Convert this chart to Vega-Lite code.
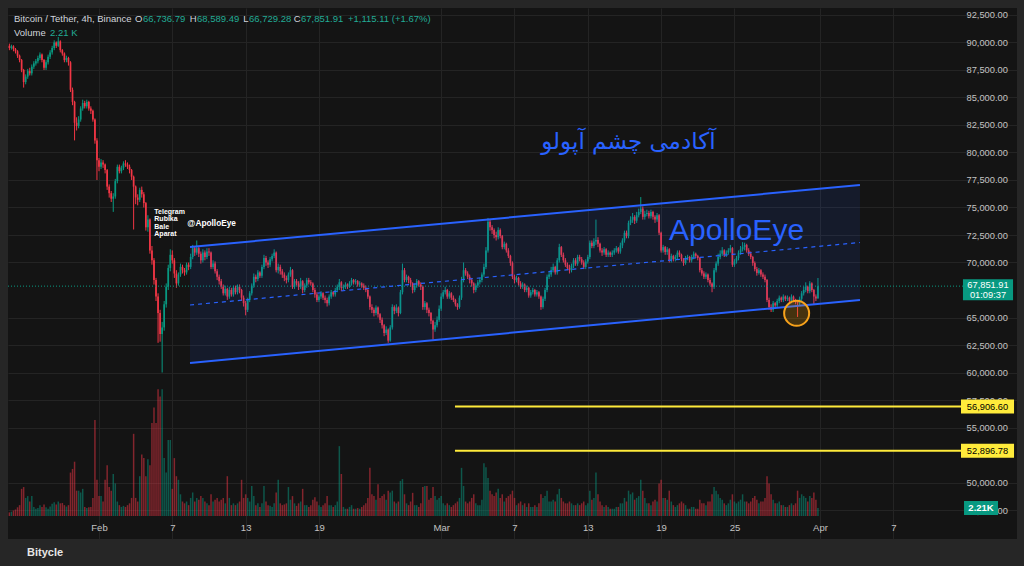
{
"$schema":"https://vega.github.io/schema/vega-lite/v6.json",
"width":1009,"height":531,
"autosize":{"type":"none"},
"padding":{"left":8,"top":8,"right":7,"bottom":27},
"background":"#262626",
"config":{"view":{"fill":"#141414","stroke":null},"font":"Liberation Sans","axis":{"labelOverlap":false,"labelBound":false}},
"title":{"text":"Bitycle","orient":"bottom","anchor":"start","frame":"group","dx":19,"offset":8,"color":"#e6e6e6","fontSize":11,"fontWeight":"bold","font":"Liberation Sans"},
"datasets":{"k":[
{"t":"2026-01-24T16:00","o":89700,"h":89900,"l":89300,"c":89500,"v":1.0},
{"t":"2026-01-24T20:00","o":89500,"h":89800,"l":89350,"c":89650,"v":1.2},
{"t":"2026-01-25T00:00","o":89650,"h":89750,"l":89200,"c":89400,"v":1.5},
{"t":"2026-01-25T04:00","o":89400,"h":89500,"l":89000,"c":89200,"v":1.8},
{"t":"2026-01-25T08:00","o":89200,"h":89300,"l":88600,"c":88800,"v":2.4},
{"t":"2026-01-25T12:00","o":88800,"h":88900,"l":88200,"c":88400,"v":3.0},
{"t":"2026-01-25T16:00","o":88400,"h":88500,"l":87300,"c":87500,"v":7.5},
{"t":"2026-01-25T20:00","o":87500,"h":87600,"l":85900,"c":86400,"v":8.0},
{"t":"2026-01-26T00:00","o":86400,"h":87100,"l":86200,"c":86900,"v":5.0},
{"t":"2026-01-26T04:00","o":86900,"h":87600,"l":86700,"c":87400,"v":5.5},
{"t":"2026-01-26T08:00","o":87400,"h":87700,"l":87000,"c":87200,"v":4.0},
{"t":"2026-01-26T12:00","o":87200,"h":88000,"l":87000,"c":87800,"v":5.5},
{"t":"2026-01-26T16:00","o":87800,"h":88300,"l":87600,"c":88100,"v":2.5},
{"t":"2026-01-26T20:00","o":88100,"h":88500,"l":87900,"c":88300,"v":2.0},
{"t":"2026-01-27T00:00","o":88300,"h":88800,"l":88100,"c":88600,"v":2.2},
{"t":"2026-01-27T04:00","o":88600,"h":89100,"l":88400,"c":88900,"v":3.0},
{"t":"2026-01-27T08:00","o":88900,"h":89000,"l":88200,"c":88400,"v":2.5},
{"t":"2026-01-27T12:00","o":88400,"h":88500,"l":87500,"c":87700,"v":3.2},
{"t":"2026-01-27T16:00","o":87700,"h":88400,"l":87500,"c":88200,"v":2.4},
{"t":"2026-01-27T20:00","o":88200,"h":88900,"l":88000,"c":88700,"v":2.0},
{"t":"2026-01-28T00:00","o":88700,"h":89300,"l":88500,"c":89100,"v":2.6},
{"t":"2026-01-28T04:00","o":89100,"h":89700,"l":88900,"c":89500,"v":3.4},
{"t":"2026-01-28T08:00","o":89500,"h":90200,"l":89300,"c":90000,"v":3.8},
{"t":"2026-01-28T12:00","o":90000,"h":90100,"l":89500,"c":89700,"v":3.2},
{"t":"2026-01-28T16:00","o":89700,"h":90500,"l":89600,"c":90100,"v":4.0},
{"t":"2026-01-28T20:00","o":90100,"h":90200,"l":89100,"c":89300,"v":3.5},
{"t":"2026-01-29T00:00","o":89300,"h":89400,"l":88800,"c":89000,"v":3.6},
{"t":"2026-01-29T04:00","o":89000,"h":89100,"l":88200,"c":88400,"v":3.0},
{"t":"2026-01-29T08:00","o":88400,"h":88800,"l":88200,"c":88600,"v":2.6},
{"t":"2026-01-29T12:00","o":88600,"h":88700,"l":87900,"c":88200,"v":3.0},
{"t":"2026-01-29T16:00","o":88200,"h":88300,"l":85500,"c":85700,"v":12.0},
{"t":"2026-01-29T20:00","o":85700,"h":85900,"l":84300,"c":84600,"v":13.0},
{"t":"2026-01-30T00:00","o":84600,"h":84700,"l":81100,"c":82700,"v":15.0},
{"t":"2026-01-30T04:00","o":82700,"h":83200,"l":82000,"c":82400,"v":7.0},
{"t":"2026-01-30T08:00","o":82400,"h":83300,"l":82200,"c":83000,"v":7.0},
{"t":"2026-01-30T12:00","o":83000,"h":84200,"l":82800,"c":84000,"v":6.5},
{"t":"2026-01-30T16:00","o":84000,"h":84800,"l":83800,"c":84500,"v":7.5},
{"t":"2026-01-30T20:00","o":84500,"h":84700,"l":84000,"c":84200,"v":2.5},
{"t":"2026-01-31T00:00","o":84200,"h":84800,"l":84000,"c":84600,"v":2.2},
{"t":"2026-01-31T04:00","o":84600,"h":84700,"l":83800,"c":84000,"v":2.4},
{"t":"2026-01-31T08:00","o":84000,"h":84200,"l":83500,"c":83800,"v":2.5},
{"t":"2026-01-31T12:00","o":83800,"h":83900,"l":82800,"c":83000,"v":5.0},
{"t":"2026-01-31T16:00","o":83000,"h":83100,"l":80800,"c":81100,"v":26.5},
{"t":"2026-01-31T20:00","o":81100,"h":81300,"l":77500,"c":79300,"v":10.0},
{"t":"2026-02-01T00:00","o":79300,"h":79500,"l":78300,"c":78700,"v":5.5},
{"t":"2026-02-01T04:00","o":78700,"h":79400,"l":78500,"c":79100,"v":5.5},
{"t":"2026-02-01T08:00","o":79100,"h":79300,"l":78600,"c":78900,"v":4.0},
{"t":"2026-02-01T12:00","o":78900,"h":79000,"l":78100,"c":78400,"v":10.0},
{"t":"2026-02-01T16:00","o":78400,"h":78500,"l":76600,"c":76900,"v":14.0},
{"t":"2026-02-01T20:00","o":76900,"h":77100,"l":75900,"c":76300,"v":8.0},
{"t":"2026-02-02T00:00","o":76300,"h":76500,"l":75500,"c":75800,"v":7.0},
{"t":"2026-02-02T04:00","o":75800,"h":76300,"l":74600,"c":76000,"v":11.6},
{"t":"2026-02-02T08:00","o":76000,"h":77600,"l":75800,"c":77400,"v":9.0},
{"t":"2026-02-02T12:00","o":77400,"h":78900,"l":77200,"c":78700,"v":4.0},
{"t":"2026-02-02T16:00","o":78700,"h":78900,"l":78100,"c":78300,"v":3.0},
{"t":"2026-02-02T20:00","o":78300,"h":78800,"l":78100,"c":78600,"v":2.5},
{"t":"2026-02-03T00:00","o":78600,"h":79200,"l":78400,"c":79000,"v":2.8},
{"t":"2026-02-03T04:00","o":79000,"h":79300,"l":78700,"c":78900,"v":2.5},
{"t":"2026-02-03T08:00","o":78900,"h":79100,"l":78500,"c":78700,"v":3.0},
{"t":"2026-02-03T12:00","o":78700,"h":78900,"l":78100,"c":78400,"v":3.5},
{"t":"2026-02-03T16:00","o":78400,"h":78500,"l":77500,"c":77800,"v":5.0},
{"t":"2026-02-03T20:00","o":77800,"h":77900,"l":73000,"c":76900,"v":22.7},
{"t":"2026-02-04T00:00","o":76900,"h":77000,"l":75300,"c":75900,"v":5.0},
{"t":"2026-02-04T04:00","o":75900,"h":76200,"l":75200,"c":75700,"v":4.0},
{"t":"2026-02-04T08:00","o":75700,"h":76800,"l":75500,"c":76600,"v":11.0},
{"t":"2026-02-04T12:00","o":76600,"h":76900,"l":75900,"c":76200,"v":17.0},
{"t":"2026-02-04T16:00","o":76200,"h":76400,"l":75000,"c":75400,"v":16.0},
{"t":"2026-02-04T20:00","o":75400,"h":75500,"l":72900,"c":73200,"v":11.0},
{"t":"2026-02-05T00:00","o":73200,"h":74300,"l":72800,"c":73900,"v":15.7},
{"t":"2026-02-05T04:00","o":73900,"h":74000,"l":70800,"c":71100,"v":14.0},
{"t":"2026-02-05T08:00","o":71100,"h":71500,"l":69800,"c":70200,"v":25.7},
{"t":"2026-02-05T12:00","o":70200,"h":70400,"l":68000,"c":68400,"v":30.0},
{"t":"2026-02-05T16:00","o":68400,"h":68600,"l":66500,"c":66900,"v":25.7},
{"t":"2026-02-05T20:00","o":66900,"h":67200,"l":62700,"c":65400,"v":35.0},
{"t":"2026-02-06T00:00","o":65400,"h":65700,"l":62800,"c":63500,"v":33.0},
{"t":"2026-02-06T04:00","o":63500,"h":64600,"l":60000,"c":64100,"v":35.0},
{"t":"2026-02-06T08:00","o":64100,"h":66500,"l":63800,"c":66200,"v":16.0},
{"t":"2026-02-06T12:00","o":66200,"h":68100,"l":65900,"c":67800,"v":12.0},
{"t":"2026-02-06T16:00","o":67800,"h":69800,"l":67500,"c":69500,"v":21.0},
{"t":"2026-02-06T20:00","o":69500,"h":71200,"l":69200,"c":70700,"v":21.0},
{"t":"2026-02-07T00:00","o":70700,"h":71100,"l":69900,"c":70200,"v":7.5},
{"t":"2026-02-07T04:00","o":70200,"h":70400,"l":68600,"c":69000,"v":16.0},
{"t":"2026-02-07T08:00","o":69000,"h":69300,"l":67700,"c":68100,"v":11.0},
{"t":"2026-02-07T12:00","o":68100,"h":69100,"l":67900,"c":68900,"v":10.0},
{"t":"2026-02-07T16:00","o":68900,"h":69900,"l":68700,"c":69600,"v":6.0},
{"t":"2026-02-07T20:00","o":69600,"h":69800,"l":69000,"c":69300,"v":4.0},
{"t":"2026-02-08T00:00","o":69300,"h":69500,"l":68800,"c":69100,"v":3.5},
{"t":"2026-02-08T04:00","o":69100,"h":70000,"l":68900,"c":69800,"v":4.0},
{"t":"2026-02-08T08:00","o":69800,"h":70000,"l":69300,"c":69600,"v":3.0},
{"t":"2026-02-08T12:00","o":69600,"h":70800,"l":69400,"c":70500,"v":5.0},
{"t":"2026-02-08T16:00","o":70500,"h":71600,"l":70300,"c":71300,"v":6.5},
{"t":"2026-02-08T20:00","o":71300,"h":71500,"l":70600,"c":70900,"v":4.0},
{"t":"2026-02-09T00:00","o":70900,"h":72000,"l":70700,"c":71300,"v":5.0},
{"t":"2026-02-09T04:00","o":71300,"h":71500,"l":70500,"c":70800,"v":4.5},
{"t":"2026-02-09T08:00","o":70800,"h":71000,"l":69900,"c":70200,"v":5.5},
{"t":"2026-02-09T12:00","o":70200,"h":71200,"l":70000,"c":70900,"v":5.0},
{"t":"2026-02-09T16:00","o":70900,"h":71100,"l":70200,"c":70500,"v":4.0},
{"t":"2026-02-09T20:00","o":70500,"h":71300,"l":70300,"c":71000,"v":3.5},
{"t":"2026-02-10T00:00","o":71000,"h":71300,"l":70600,"c":70900,"v":3.0},
{"t":"2026-02-10T04:00","o":70900,"h":71000,"l":69400,"c":69600,"v":6.0},
{"t":"2026-02-10T08:00","o":69600,"h":70200,"l":69400,"c":69900,"v":4.0},
{"t":"2026-02-10T12:00","o":69900,"h":70100,"l":69000,"c":69200,"v":4.5},
{"t":"2026-02-10T16:00","o":69200,"h":69400,"l":68400,"c":68700,"v":5.0},
{"t":"2026-02-10T20:00","o":68700,"h":68900,"l":68000,"c":68300,"v":4.0},
{"t":"2026-02-11T00:00","o":68300,"h":68500,"l":67600,"c":67800,"v":4.5},
{"t":"2026-02-11T04:00","o":67800,"h":68000,"l":67000,"c":67200,"v":5.0},
{"t":"2026-02-11T08:00","o":67200,"h":67900,"l":67000,"c":67600,"v":3.5},
{"t":"2026-02-11T12:00","o":67600,"h":67700,"l":66600,"c":66900,"v":11.0},
{"t":"2026-02-11T16:00","o":66900,"h":67800,"l":66700,"c":67500,"v":5.0},
{"t":"2026-02-11T20:00","o":67500,"h":67700,"l":66900,"c":67100,"v":3.0},
{"t":"2026-02-12T00:00","o":67100,"h":67900,"l":66900,"c":67700,"v":3.5},
{"t":"2026-02-12T04:00","o":67700,"h":67900,"l":67100,"c":67300,"v":3.0},
{"t":"2026-02-12T08:00","o":67300,"h":68000,"l":67100,"c":67800,"v":3.5},
{"t":"2026-02-12T12:00","o":67800,"h":68000,"l":67200,"c":67500,"v":4.0},
{"t":"2026-02-12T16:00","o":67500,"h":67600,"l":66500,"c":66800,"v":10.0},
{"t":"2026-02-12T20:00","o":66800,"h":67000,"l":66000,"c":66300,"v":5.0},
{"t":"2026-02-13T00:00","o":66300,"h":66500,"l":65200,"c":65700,"v":6.0},
{"t":"2026-02-13T04:00","o":65700,"h":66800,"l":65500,"c":66600,"v":5.0},
{"t":"2026-02-13T08:00","o":66600,"h":67400,"l":66400,"c":67200,"v":4.0},
{"t":"2026-02-13T12:00","o":67200,"h":68100,"l":67000,"c":67900,"v":8.3},
{"t":"2026-02-13T16:00","o":67900,"h":69000,"l":67700,"c":68700,"v":5.5},
{"t":"2026-02-13T20:00","o":68700,"h":68900,"l":68200,"c":68500,"v":3.0},
{"t":"2026-02-14T00:00","o":68500,"h":69300,"l":68300,"c":69100,"v":3.5},
{"t":"2026-02-14T04:00","o":69100,"h":69200,"l":68600,"c":68800,"v":2.5},
{"t":"2026-02-14T08:00","o":68800,"h":69800,"l":68600,"c":69600,"v":3.5},
{"t":"2026-02-14T12:00","o":69600,"h":70700,"l":69400,"c":70400,"v":8.3},
{"t":"2026-02-14T16:00","o":70400,"h":70600,"l":69700,"c":70000,"v":4.0},
{"t":"2026-02-14T20:00","o":70000,"h":70200,"l":69500,"c":69800,"v":3.0},
{"t":"2026-02-15T00:00","o":69800,"h":70500,"l":69600,"c":70300,"v":2.8},
{"t":"2026-02-15T04:00","o":70300,"h":70800,"l":70100,"c":70600,"v":2.5},
{"t":"2026-02-15T08:00","o":70600,"h":71200,"l":70400,"c":70900,"v":3.5},
{"t":"2026-02-15T12:00","o":70900,"h":71000,"l":69100,"c":69300,"v":6.5},
{"t":"2026-02-15T16:00","o":69300,"h":69900,"l":69000,"c":69600,"v":10.0},
{"t":"2026-02-15T20:00","o":69600,"h":69800,"l":68900,"c":69200,"v":3.5},
{"t":"2026-02-16T00:00","o":69200,"h":69400,"l":68600,"c":68900,"v":3.0},
{"t":"2026-02-16T04:00","o":68900,"h":69100,"l":68300,"c":68600,"v":3.2},
{"t":"2026-02-16T08:00","o":68600,"h":68800,"l":68100,"c":68400,"v":3.5},
{"t":"2026-02-16T12:00","o":68400,"h":69100,"l":68200,"c":68900,"v":8.0},
{"t":"2026-02-16T16:00","o":68900,"h":69600,"l":68700,"c":69300,"v":4.5},
{"t":"2026-02-16T20:00","o":69300,"h":69400,"l":67600,"c":67800,"v":5.5},
{"t":"2026-02-17T00:00","o":67800,"h":68500,"l":67600,"c":68300,"v":3.5},
{"t":"2026-02-17T04:00","o":68300,"h":68500,"l":67900,"c":68100,"v":2.8},
{"t":"2026-02-17T08:00","o":68100,"h":68300,"l":67500,"c":67800,"v":3.5},
{"t":"2026-02-17T12:00","o":67800,"h":68600,"l":67600,"c":68300,"v":4.0},
{"t":"2026-02-17T16:00","o":68300,"h":68400,"l":67200,"c":67500,"v":7.5},
{"t":"2026-02-17T20:00","o":67500,"h":68100,"l":67300,"c":67900,"v":3.0},
{"t":"2026-02-18T00:00","o":67900,"h":68600,"l":67700,"c":68400,"v":3.0},
{"t":"2026-02-18T04:00","o":68400,"h":68600,"l":68000,"c":68200,"v":2.5},
{"t":"2026-02-18T08:00","o":68200,"h":68400,"l":67900,"c":68100,"v":3.0},
{"t":"2026-02-18T12:00","o":68100,"h":68200,"l":67300,"c":67500,"v":4.5},
{"t":"2026-02-18T16:00","o":67500,"h":67700,"l":66800,"c":67100,"v":5.2},
{"t":"2026-02-18T20:00","o":67100,"h":67300,"l":66400,"c":66600,"v":4.0},
{"t":"2026-02-19T00:00","o":66600,"h":67100,"l":66400,"c":66900,"v":3.0},
{"t":"2026-02-19T04:00","o":66900,"h":67400,"l":66700,"c":67200,"v":2.5},
{"t":"2026-02-19T08:00","o":67200,"h":67300,"l":66600,"c":66800,"v":3.0},
{"t":"2026-02-19T12:00","o":66800,"h":67000,"l":66300,"c":66600,"v":3.5},
{"t":"2026-02-19T16:00","o":66600,"h":66800,"l":66000,"c":66300,"v":5.5},
{"t":"2026-02-19T20:00","o":66300,"h":67100,"l":66100,"c":66900,"v":3.0},
{"t":"2026-02-20T00:00","o":66900,"h":67500,"l":66700,"c":67300,"v":3.0},
{"t":"2026-02-20T04:00","o":67300,"h":67400,"l":66900,"c":67100,"v":2.5},
{"t":"2026-02-20T08:00","o":67100,"h":67700,"l":66900,"c":67500,"v":3.0},
{"t":"2026-02-20T12:00","o":67500,"h":68000,"l":67300,"c":67800,"v":4.0},
{"t":"2026-02-20T16:00","o":67800,"h":68500,"l":67500,"c":68200,"v":19.3},
{"t":"2026-02-20T20:00","o":68200,"h":68300,"l":67400,"c":67700,"v":11.6},
{"t":"2026-02-21T00:00","o":67700,"h":68000,"l":67500,"c":67800,"v":2.5},
{"t":"2026-02-21T04:00","o":67800,"h":68200,"l":67600,"c":68000,"v":2.0},
{"t":"2026-02-21T08:00","o":68000,"h":68100,"l":67600,"c":67800,"v":2.0},
{"t":"2026-02-21T12:00","o":67800,"h":68300,"l":67700,"c":68100,"v":2.5},
{"t":"2026-02-21T16:00","o":68100,"h":68600,"l":67900,"c":68400,"v":3.0},
{"t":"2026-02-21T20:00","o":68400,"h":68500,"l":68000,"c":68200,"v":2.0},
{"t":"2026-02-22T00:00","o":68200,"h":68500,"l":68000,"c":68300,"v":2.0},
{"t":"2026-02-22T04:00","o":68300,"h":68400,"l":67800,"c":68000,"v":2.2},
{"t":"2026-02-22T08:00","o":68000,"h":68300,"l":67800,"c":68100,"v":2.0},
{"t":"2026-02-22T12:00","o":68100,"h":68200,"l":67700,"c":67900,"v":2.5},
{"t":"2026-02-22T16:00","o":67900,"h":68100,"l":67500,"c":67700,"v":3.0},
{"t":"2026-02-22T20:00","o":67700,"h":67900,"l":67300,"c":67500,"v":3.5},
{"t":"2026-02-23T00:00","o":67500,"h":67600,"l":66700,"c":66900,"v":5.0},
{"t":"2026-02-23T04:00","o":66900,"h":67000,"l":65700,"c":65950,"v":13.3},
{"t":"2026-02-23T08:00","o":65950,"h":66200,"l":65400,"c":65700,"v":6.0},
{"t":"2026-02-23T12:00","o":65700,"h":65900,"l":65100,"c":65400,"v":5.5},
{"t":"2026-02-23T16:00","o":65400,"h":66100,"l":65200,"c":65900,"v":4.5},
{"t":"2026-02-23T20:00","o":65900,"h":66000,"l":65000,"c":65300,"v":8.8},
{"t":"2026-02-24T00:00","o":65300,"h":65400,"l":64500,"c":64800,"v":5.0},
{"t":"2026-02-24T04:00","o":64800,"h":65000,"l":64000,"c":64300,"v":5.5},
{"t":"2026-02-24T08:00","o":64300,"h":64400,"l":63300,"c":63600,"v":6.0},
{"t":"2026-02-24T12:00","o":63600,"h":64200,"l":63400,"c":63900,"v":4.5},
{"t":"2026-02-24T16:00","o":63900,"h":64000,"l":62700,"c":62900,"v":7.0},
{"t":"2026-02-24T20:00","o":62900,"h":64300,"l":62800,"c":64100,"v":6.5},
{"t":"2026-02-25T00:00","o":64100,"h":66200,"l":63900,"c":65950,"v":7.0},
{"t":"2026-02-25T04:00","o":65950,"h":66100,"l":65300,"c":65600,"v":4.0},
{"t":"2026-02-25T08:00","o":65600,"h":66200,"l":65400,"c":65900,"v":3.5},
{"t":"2026-02-25T12:00","o":65900,"h":66000,"l":65100,"c":65400,"v":4.0},
{"t":"2026-02-25T16:00","o":65400,"h":67500,"l":65300,"c":67300,"v":9.7},
{"t":"2026-02-25T20:00","o":67300,"h":69900,"l":67100,"c":69300,"v":10.2},
{"t":"2026-02-26T00:00","o":69300,"h":69500,"l":68200,"c":68400,"v":6.0},
{"t":"2026-02-26T04:00","o":68400,"h":68900,"l":68200,"c":68700,"v":3.5},
{"t":"2026-02-26T08:00","o":68700,"h":68800,"l":68100,"c":68400,"v":3.0},
{"t":"2026-02-26T12:00","o":68400,"h":68600,"l":67800,"c":68100,"v":4.0},
{"t":"2026-02-26T16:00","o":68100,"h":68200,"l":67200,"c":67500,"v":6.4},
{"t":"2026-02-26T20:00","o":67500,"h":68100,"l":67300,"c":67900,"v":3.0},
{"t":"2026-02-27T00:00","o":67900,"h":68500,"l":67700,"c":68300,"v":3.0},
{"t":"2026-02-27T04:00","o":68300,"h":68400,"l":67800,"c":68000,"v":2.5},
{"t":"2026-02-27T08:00","o":68000,"h":68200,"l":67500,"c":67800,"v":3.5},
{"t":"2026-02-27T12:00","o":67800,"h":67900,"l":65700,"c":65950,"v":8.0},
{"t":"2026-02-27T16:00","o":65950,"h":66500,"l":65700,"c":66300,"v":8.3},
{"t":"2026-02-27T20:00","o":66300,"h":66400,"l":65400,"c":65700,"v":8.3},
{"t":"2026-02-28T00:00","o":65700,"h":65900,"l":65100,"c":65400,"v":4.5},
{"t":"2026-02-28T04:00","o":65400,"h":65500,"l":64400,"c":64700,"v":5.0},
{"t":"2026-02-28T08:00","o":64700,"h":64800,"l":63000,"c":63900,"v":8.0},
{"t":"2026-02-28T12:00","o":63900,"h":64600,"l":63700,"c":64300,"v":5.5},
{"t":"2026-02-28T16:00","o":64300,"h":65100,"l":64100,"c":64800,"v":4.5},
{"t":"2026-02-28T20:00","o":64800,"h":66100,"l":64600,"c":65800,"v":5.0},
{"t":"2026-03-01T00:00","o":65800,"h":67200,"l":65600,"c":66900,"v":5.5},
{"t":"2026-03-01T04:00","o":66900,"h":67500,"l":66700,"c":67300,"v":3.5},
{"t":"2026-03-01T08:00","o":67300,"h":67800,"l":67100,"c":67500,"v":3.0},
{"t":"2026-03-01T12:00","o":67500,"h":67600,"l":66700,"c":66900,"v":3.5},
{"t":"2026-03-01T16:00","o":66900,"h":67400,"l":66700,"c":67200,"v":3.0},
{"t":"2026-03-01T20:00","o":67200,"h":67300,"l":66600,"c":66800,"v":2.5},
{"t":"2026-03-02T00:00","o":66800,"h":67000,"l":66400,"c":66600,"v":3.0},
{"t":"2026-03-02T04:00","o":66600,"h":66700,"l":66000,"c":66200,"v":3.5},
{"t":"2026-03-02T08:00","o":66200,"h":66300,"l":65700,"c":65950,"v":4.0},
{"t":"2026-03-02T12:00","o":65950,"h":67000,"l":65800,"c":66800,"v":5.0},
{"t":"2026-03-02T16:00","o":66800,"h":68700,"l":66600,"c":68400,"v":13.3},
{"t":"2026-03-02T20:00","o":68400,"h":70000,"l":68200,"c":69300,"v":8.3},
{"t":"2026-03-03T00:00","o":69300,"h":69500,"l":68800,"c":69000,"v":4.0},
{"t":"2026-03-03T04:00","o":69000,"h":69200,"l":68500,"c":68700,"v":3.5},
{"t":"2026-03-03T08:00","o":68700,"h":68900,"l":68100,"c":68400,"v":4.0},
{"t":"2026-03-03T12:00","o":68400,"h":68600,"l":67800,"c":68100,"v":5.0},
{"t":"2026-03-03T16:00","o":68100,"h":68200,"l":67200,"c":67500,"v":6.0},
{"t":"2026-03-03T20:00","o":67500,"h":68100,"l":67300,"c":67900,"v":3.5},
{"t":"2026-03-04T00:00","o":67900,"h":68400,"l":67700,"c":68200,"v":3.0},
{"t":"2026-03-04T04:00","o":68200,"h":68600,"l":68000,"c":68400,"v":3.0},
{"t":"2026-03-04T08:00","o":68400,"h":69100,"l":68200,"c":68900,"v":4.5},
{"t":"2026-03-04T12:00","o":68900,"h":69900,"l":68700,"c":69600,"v":14.6},
{"t":"2026-03-04T16:00","o":69600,"h":71400,"l":69400,"c":71100,"v":13.5},
{"t":"2026-03-04T20:00","o":71100,"h":74050,"l":70900,"c":73700,"v":10.5},
{"t":"2026-03-05T00:00","o":73700,"h":73900,"l":72900,"c":73200,"v":7.0},
{"t":"2026-03-05T04:00","o":73200,"h":73400,"l":72600,"c":72950,"v":6.0},
{"t":"2026-03-05T08:00","o":72950,"h":73100,"l":72200,"c":72500,"v":5.5},
{"t":"2026-03-05T12:00","o":72500,"h":72800,"l":72000,"c":72300,"v":6.5},
{"t":"2026-03-05T16:00","o":72300,"h":73200,"l":72100,"c":72950,"v":7.5},
{"t":"2026-03-05T20:00","o":72950,"h":73100,"l":72200,"c":72400,"v":5.0},
{"t":"2026-03-06T00:00","o":72400,"h":72500,"l":71200,"c":71400,"v":6.0},
{"t":"2026-03-06T04:00","o":71400,"h":71900,"l":71200,"c":71700,"v":4.0},
{"t":"2026-03-06T08:00","o":71700,"h":71800,"l":70900,"c":71100,"v":5.0},
{"t":"2026-03-06T12:00","o":71100,"h":71300,"l":70400,"c":70600,"v":5.5},
{"t":"2026-03-06T16:00","o":70600,"h":70700,"l":69700,"c":69950,"v":6.0},
{"t":"2026-03-06T20:00","o":69950,"h":70100,"l":68500,"c":68700,"v":7.0},
{"t":"2026-03-07T00:00","o":68700,"h":68900,"l":68100,"c":68400,"v":5.0},
{"t":"2026-03-07T04:00","o":68400,"h":68800,"l":68200,"c":68600,"v":3.0},
{"t":"2026-03-07T08:00","o":68600,"h":68700,"l":67900,"c":68100,"v":3.5},
{"t":"2026-03-07T12:00","o":68100,"h":68300,"l":67600,"c":67800,"v":4.0},
{"t":"2026-03-07T16:00","o":67800,"h":68200,"l":67600,"c":68000,"v":3.0},
{"t":"2026-03-07T20:00","o":68000,"h":68100,"l":67300,"c":67500,"v":3.5},
{"t":"2026-03-08T00:00","o":67500,"h":67900,"l":67300,"c":67700,"v":2.5},
{"t":"2026-03-08T04:00","o":67700,"h":67800,"l":66800,"c":67000,"v":3.5},
{"t":"2026-03-08T08:00","o":67000,"h":67500,"l":66800,"c":67300,"v":2.5},
{"t":"2026-03-08T12:00","o":67300,"h":67700,"l":67100,"c":67500,"v":2.5},
{"t":"2026-03-08T16:00","o":67500,"h":67600,"l":66900,"c":67100,"v":3.0},
{"t":"2026-03-08T20:00","o":67100,"h":67500,"l":66900,"c":67300,"v":2.5},
{"t":"2026-03-09T00:00","o":67300,"h":67400,"l":66700,"c":66900,"v":3.5},
{"t":"2026-03-09T04:00","o":66900,"h":67000,"l":65700,"c":65950,"v":6.0},
{"t":"2026-03-09T08:00","o":65950,"h":66900,"l":65800,"c":66700,"v":5.0},
{"t":"2026-03-09T12:00","o":66700,"h":67700,"l":66500,"c":67500,"v":5.5},
{"t":"2026-03-09T16:00","o":67500,"h":68900,"l":67300,"c":68700,"v":7.0},
{"t":"2026-03-09T20:00","o":68700,"h":69200,"l":68500,"c":68900,"v":4.0},
{"t":"2026-03-10T00:00","o":68900,"h":69600,"l":68700,"c":69300,"v":4.0},
{"t":"2026-03-10T04:00","o":69300,"h":69900,"l":69100,"c":69600,"v":4.5},
{"t":"2026-03-10T08:00","o":69600,"h":69700,"l":68900,"c":69100,"v":4.0},
{"t":"2026-03-10T12:00","o":69100,"h":70400,"l":68900,"c":70200,"v":6.0},
{"t":"2026-03-10T16:00","o":70200,"h":71700,"l":70000,"c":71400,"v":7.5},
{"t":"2026-03-10T20:00","o":71400,"h":71500,"l":70500,"c":70700,"v":5.0},
{"t":"2026-03-11T00:00","o":70700,"h":70900,"l":70000,"c":70200,"v":4.0},
{"t":"2026-03-11T04:00","o":70200,"h":70400,"l":69600,"c":69800,"v":3.5},
{"t":"2026-03-11T08:00","o":69800,"h":70000,"l":69300,"c":69500,"v":3.5},
{"t":"2026-03-11T12:00","o":69500,"h":69800,"l":69000,"c":69300,"v":4.0},
{"t":"2026-03-11T16:00","o":69300,"h":69900,"l":69100,"c":69700,"v":3.5},
{"t":"2026-03-11T20:00","o":69700,"h":70400,"l":69500,"c":70200,"v":3.0},
{"t":"2026-03-12T00:00","o":70200,"h":70400,"l":69700,"c":69900,"v":3.0},
{"t":"2026-03-12T04:00","o":69900,"h":70700,"l":69700,"c":70500,"v":3.5},
{"t":"2026-03-12T08:00","o":70500,"h":70700,"l":70100,"c":70300,"v":3.0},
{"t":"2026-03-12T12:00","o":70300,"h":70500,"l":69800,"c":70000,"v":3.5},
{"t":"2026-03-12T16:00","o":70000,"h":70200,"l":69400,"c":69600,"v":4.0},
{"t":"2026-03-12T20:00","o":69600,"h":70300,"l":69400,"c":70100,"v":3.0},
{"t":"2026-03-13T00:00","o":70100,"h":70700,"l":69900,"c":70500,"v":3.5},
{"t":"2026-03-13T04:00","o":70500,"h":72000,"l":70300,"c":71800,"v":7.0},
{"t":"2026-03-13T08:00","o":71800,"h":72000,"l":71300,"c":71500,"v":4.5},
{"t":"2026-03-13T12:00","o":71500,"h":72200,"l":71300,"c":71900,"v":5.0},
{"t":"2026-03-13T16:00","o":71900,"h":73900,"l":71600,"c":72050,"v":12.0},
{"t":"2026-03-13T20:00","o":72050,"h":72300,"l":71400,"c":71700,"v":6.0},
{"t":"2026-03-14T00:00","o":71700,"h":71800,"l":70900,"c":71100,"v":4.0},
{"t":"2026-03-14T04:00","o":71100,"h":71300,"l":70600,"c":70900,"v":3.0},
{"t":"2026-03-14T08:00","o":70900,"h":71400,"l":70700,"c":71200,"v":2.5},
{"t":"2026-03-14T12:00","o":71200,"h":71300,"l":70500,"c":70700,"v":3.0},
{"t":"2026-03-14T16:00","o":70700,"h":71100,"l":70500,"c":70900,"v":2.5},
{"t":"2026-03-14T20:00","o":70900,"h":71000,"l":70500,"c":70700,"v":2.0},
{"t":"2026-03-15T00:00","o":70700,"h":71100,"l":70500,"c":70900,"v":2.0},
{"t":"2026-03-15T04:00","o":70900,"h":71300,"l":70700,"c":71100,"v":2.0},
{"t":"2026-03-15T08:00","o":71100,"h":71500,"l":70900,"c":71300,"v":2.5},
{"t":"2026-03-15T12:00","o":71300,"h":71400,"l":70800,"c":71000,"v":2.5},
{"t":"2026-03-15T16:00","o":71000,"h":71800,"l":70800,"c":71550,"v":3.5},
{"t":"2026-03-15T20:00","o":71550,"h":72200,"l":71300,"c":72000,"v":3.5},
{"t":"2026-03-16T00:00","o":72000,"h":72900,"l":71800,"c":72700,"v":5.0},
{"t":"2026-03-16T04:00","o":72700,"h":72900,"l":72200,"c":72400,"v":4.0},
{"t":"2026-03-16T08:00","o":72400,"h":73800,"l":72200,"c":73600,"v":7.0},
{"t":"2026-03-16T12:00","o":73600,"h":74200,"l":73400,"c":73900,"v":6.0},
{"t":"2026-03-16T16:00","o":73900,"h":74500,"l":73600,"c":74150,"v":6.5},
{"t":"2026-03-16T20:00","o":74150,"h":74300,"l":73500,"c":73800,"v":4.5},
{"t":"2026-03-17T00:00","o":73800,"h":74600,"l":73600,"c":74300,"v":5.0},
{"t":"2026-03-17T04:00","o":74300,"h":74900,"l":74100,"c":74600,"v":5.5},
{"t":"2026-03-17T08:00","o":74600,"h":75950,"l":74400,"c":74900,"v":10.0},
{"t":"2026-03-17T12:00","o":74900,"h":75100,"l":73900,"c":74150,"v":7.0},
{"t":"2026-03-17T16:00","o":74150,"h":74700,"l":73900,"c":74400,"v":5.0},
{"t":"2026-03-17T20:00","o":74400,"h":74800,"l":74200,"c":74500,"v":3.5},
{"t":"2026-03-18T00:00","o":74500,"h":74700,"l":74000,"c":74200,"v":3.5},
{"t":"2026-03-18T04:00","o":74200,"h":74800,"l":74000,"c":74600,"v":3.0},
{"t":"2026-03-18T08:00","o":74600,"h":74700,"l":73900,"c":74150,"v":4.0},
{"t":"2026-03-18T12:00","o":74150,"h":74300,"l":73600,"c":73900,"v":4.5},
{"t":"2026-03-18T16:00","o":73900,"h":74500,"l":73700,"c":74300,"v":4.0},
{"t":"2026-03-18T20:00","o":74300,"h":74400,"l":72500,"c":72700,"v":9.0},
{"t":"2026-03-19T00:00","o":72700,"h":72800,"l":70900,"c":71100,"v":10.0},
{"t":"2026-03-19T04:00","o":71100,"h":71600,"l":70900,"c":71400,"v":5.0},
{"t":"2026-03-19T08:00","o":71400,"h":71500,"l":70700,"c":70950,"v":5.0},
{"t":"2026-03-19T12:00","o":70950,"h":71400,"l":70700,"c":71200,"v":4.5},
{"t":"2026-03-19T16:00","o":71200,"h":71300,"l":70000,"c":70200,"v":7.0},
{"t":"2026-03-19T20:00","o":70200,"h":70800,"l":70000,"c":70600,"v":4.0},
{"t":"2026-03-20T00:00","o":70600,"h":70700,"l":70100,"c":70300,"v":3.0},
{"t":"2026-03-20T04:00","o":70300,"h":70700,"l":70100,"c":70500,"v":2.5},
{"t":"2026-03-20T08:00","o":70500,"h":71100,"l":70300,"c":70900,"v":3.0},
{"t":"2026-03-20T12:00","o":70900,"h":71100,"l":70500,"c":70700,"v":3.5},
{"t":"2026-03-20T16:00","o":70700,"h":70800,"l":70100,"c":70300,"v":4.0},
{"t":"2026-03-20T20:00","o":70300,"h":70400,"l":69700,"c":69950,"v":3.5},
{"t":"2026-03-21T00:00","o":69950,"h":70600,"l":69800,"c":70400,"v":3.0},
{"t":"2026-03-21T04:00","o":70400,"h":70700,"l":70200,"c":70500,"v":2.0},
{"t":"2026-03-21T08:00","o":70500,"h":70600,"l":70000,"c":70200,"v":2.0},
{"t":"2026-03-21T12:00","o":70200,"h":70700,"l":70000,"c":70500,"v":2.5},
{"t":"2026-03-21T16:00","o":70500,"h":71000,"l":70300,"c":70800,"v":2.5},
{"t":"2026-03-21T20:00","o":70800,"h":70900,"l":70400,"c":70600,"v":2.0},
{"t":"2026-03-22T00:00","o":70600,"h":70700,"l":70200,"c":70400,"v":2.0},
{"t":"2026-03-22T04:00","o":70400,"h":70500,"l":69100,"c":69300,"v":4.5},
{"t":"2026-03-22T08:00","o":69300,"h":69500,"l":68800,"c":69000,"v":3.5},
{"t":"2026-03-22T12:00","o":69000,"h":69200,"l":68500,"c":68700,"v":3.5},
{"t":"2026-03-22T16:00","o":68700,"h":69100,"l":68500,"c":68900,"v":3.0},
{"t":"2026-03-22T20:00","o":68900,"h":69000,"l":68200,"c":68400,"v":4.0},
{"t":"2026-03-23T00:00","o":68400,"h":68600,"l":67900,"c":68100,"v":4.0},
{"t":"2026-03-23T04:00","o":68100,"h":68200,"l":67300,"c":67800,"v":6.0},
{"t":"2026-03-23T08:00","o":67800,"h":69500,"l":67600,"c":69300,"v":8.0},
{"t":"2026-03-23T12:00","o":69300,"h":70100,"l":69100,"c":69900,"v":7.0},
{"t":"2026-03-23T16:00","o":69900,"h":70800,"l":69700,"c":70500,"v":6.0},
{"t":"2026-03-23T20:00","o":70500,"h":71100,"l":70300,"c":70800,"v":5.0},
{"t":"2026-03-24T00:00","o":70800,"h":71400,"l":70600,"c":71100,"v":4.5},
{"t":"2026-03-24T04:00","o":71100,"h":71200,"l":70500,"c":70700,"v":3.5},
{"t":"2026-03-24T08:00","o":70700,"h":71100,"l":70500,"c":70900,"v":3.0},
{"t":"2026-03-24T12:00","o":70900,"h":71300,"l":70700,"c":71100,"v":3.5},
{"t":"2026-03-24T16:00","o":71100,"h":71600,"l":70900,"c":71300,"v":4.5},
{"t":"2026-03-24T20:00","o":71300,"h":71400,"l":69600,"c":69800,"v":6.0},
{"t":"2026-03-25T00:00","o":69800,"h":70300,"l":69600,"c":70100,"v":4.0},
{"t":"2026-03-25T04:00","o":70100,"h":70600,"l":69900,"c":70400,"v":3.5},
{"t":"2026-03-25T08:00","o":70400,"h":71100,"l":70200,"c":70900,"v":4.0},
{"t":"2026-03-25T12:00","o":70900,"h":71500,"l":70700,"c":71200,"v":4.5},
{"t":"2026-03-25T16:00","o":71200,"h":71850,"l":71000,"c":71400,"v":6.0},
{"t":"2026-03-25T20:00","o":71400,"h":71800,"l":71100,"c":71600,"v":4.0},
{"t":"2026-03-26T00:00","o":71600,"h":71700,"l":70900,"c":71100,"v":4.0},
{"t":"2026-03-26T04:00","o":71100,"h":71300,"l":70600,"c":70800,"v":3.5},
{"t":"2026-03-26T08:00","o":70800,"h":71000,"l":70300,"c":70500,"v":4.0},
{"t":"2026-03-26T12:00","o":70500,"h":70600,"l":69700,"c":69950,"v":5.0},
{"t":"2026-03-26T16:00","o":69950,"h":70100,"l":69200,"c":69400,"v":5.5},
{"t":"2026-03-26T20:00","o":69400,"h":69600,"l":68800,"c":69050,"v":4.5},
{"t":"2026-03-27T00:00","o":69050,"h":69500,"l":68900,"c":69300,"v":3.5},
{"t":"2026-03-27T04:00","o":69300,"h":69400,"l":68700,"c":68900,"v":4.0},
{"t":"2026-03-27T08:00","o":68900,"h":69100,"l":68500,"c":68700,"v":4.0},
{"t":"2026-03-27T12:00","o":68700,"h":68900,"l":68200,"c":68400,"v":5.0},
{"t":"2026-03-27T16:00","o":68400,"h":68500,"l":66400,"c":66600,"v":11.0},
{"t":"2026-03-27T20:00","o":66600,"h":66800,"l":65700,"c":65950,"v":9.0},
{"t":"2026-03-28T00:00","o":65950,"h":66200,"l":65500,"c":65700,"v":6.0},
{"t":"2026-03-28T04:00","o":65700,"h":66500,"l":65500,"c":66300,"v":4.5},
{"t":"2026-03-28T08:00","o":66300,"h":66400,"l":65900,"c":66100,"v":3.5},
{"t":"2026-03-28T12:00","o":66100,"h":66700,"l":65900,"c":66500,"v":3.5},
{"t":"2026-03-28T16:00","o":66500,"h":67000,"l":66300,"c":66800,"v":4.0},
{"t":"2026-03-28T20:00","o":66800,"h":66900,"l":66400,"c":66600,"v":3.0},
{"t":"2026-03-29T00:00","o":66600,"h":67100,"l":66400,"c":66900,"v":3.0},
{"t":"2026-03-29T04:00","o":66900,"h":67000,"l":66500,"c":66700,"v":2.5},
{"t":"2026-03-29T08:00","o":66700,"h":67000,"l":66500,"c":66800,"v":2.5},
{"t":"2026-03-29T12:00","o":66800,"h":66900,"l":66300,"c":66500,"v":3.0},
{"t":"2026-03-29T16:00","o":66500,"h":67100,"l":66300,"c":66900,"v":3.5},
{"t":"2026-03-29T20:00","o":66900,"h":67000,"l":66400,"c":66600,"v":3.0},
{"t":"2026-03-30T00:00","o":66600,"h":66700,"l":66200,"c":66400,"v":3.5},
{"t":"2026-03-30T04:00","o":66400,"h":66600,"l":65050,"c":66300,"v":7.0},
{"t":"2026-03-30T08:00","o":66300,"h":66900,"l":66100,"c":66700,"v":5.0},
{"t":"2026-03-30T12:00","o":66700,"h":67400,"l":66500,"c":67200,"v":6.0},
{"t":"2026-03-30T16:00","o":67200,"h":67800,"l":67000,"c":67500,"v":5.5},
{"t":"2026-03-30T20:00","o":67500,"h":68200,"l":67300,"c":67800,"v":5.0},
{"t":"2026-03-31T00:00","o":67800,"h":67900,"l":67200,"c":67400,"v":4.0},
{"t":"2026-03-31T04:00","o":67400,"h":68300,"l":67200,"c":68100,"v":5.5},
{"t":"2026-03-31T08:00","o":68100,"h":68200,"l":67300,"c":67500,"v":5.0},
{"t":"2026-03-31T12:00","o":67500,"h":67600,"l":66200,"c":66900,"v":6.5},
{"t":"2026-03-31T16:00","o":66900,"h":67100,"l":66500,"c":66736.79,"v":4.5},
{"t":"2026-03-31T20:00","o":66736.79,"h":68589.49,"l":66729.28,"c":67851.91,"v":2.21}
]},
"encoding":{"x":{"field":"t","type":"temporal",
  "scale":{"domain":[{"year":2026,"month":1,"date":24,"hours":13,"minutes":16},{"year":2026,"month":4,"date":17,"hours":2,"minutes":57}],"padding":0},
  "axis":{"values":[{"year":2026,"month":2,"date":1},{"year":2026,"month":2,"date":7},{"year":2026,"month":2,"date":13},{"year":2026,"month":2,"date":19},{"year":2026,"month":3,"date":1},{"year":2026,"month":3,"date":7},{"year":2026,"month":3,"date":13},{"year":2026,"month":3,"date":19},{"year":2026,"month":3,"date":25},{"year":2026,"month":4,"date":1},{"year":2026,"month":4,"date":7}],
    "labelExpr":"date(datum.value) == 1 ? timeFormat(datum.value, '%b') : timeFormat(datum.value, '%-d')",
    "offset":-24,"domain":false,"ticks":false,"labelPadding":7,"labelColor":"#c3c3c3","labelFontSize":9.5,"labelFont":"Liberation Sans","gridColor":"#242424","title":null,"labelOverlap":false}}},
"layer":[
 {"layer":[
  {"data":{"name":"k"},"mark":{"type":"bar","size":1.5,"opacity":0.5},
   "encoding":{"y":{"field":"v","type":"quantitative","scale":{"domain":[-6.354,140.33],"nice":false,"zero":false,"padding":0},"axis":null},"y2":{"datum":0},
   "color":{"condition":{"test":"datum.c >= datum.o","value":"#089981"},"value":"#f23645"}}},
  {"data":{"values":[{"t":"2026-04-12T18:54","t2":"2026-04-15T13:40","v":2.21}]},"mark":{"type":"bar","size":14,"color":"#089981"},
   "encoding":{"x2":{"field":"t2"},"y":{"field":"v","type":"quantitative","scale":{"domain":[-6.354,140.33],"nice":false,"zero":false,"padding":0},"axis":null}}},
  {"data":{"values":[{"t":"2026-04-14T04:18","v":2.21,"s":"2.21K"}]},"mark":{"type":"text","color":"#ffffff","fontSize":9.5,"fontWeight":"bold","align":"center","baseline":"middle"},
   "encoding":{"y":{"field":"v","type":"quantitative","scale":{"domain":[-6.354,140.33],"nice":false,"zero":false,"padding":0},"axis":null},"text":{"field":"s"}}}
 ]},
 {"layer":[
  {"data":{"name":"k"},"mark":{"type":"rule","strokeWidth":1},
   "encoding":{"y":{"field":"l","type":"quantitative","scale":{"domain":[44863.64,93136.36],"nice":false,"zero":false,"padding":0},
     "axis":{"orient":"right","offset":-60,"values":[47500,50000,55000,57500,60000,62500,65000,70000,72500,75000,77500,80000,82500,85000,87500,90000,92500],"format":",.2f","domain":false,"ticks":false,"labelPadding":9,"labelColor":"#c3c3c3","labelFontSize":9.3,"labelFont":"Liberation Sans","grid":true,"gridColor":"#242424","title":null,"labelOverlap":false}},
   "y2":{"field":"h"},
   "color":{"condition":{"test":"datum.c >= datum.o","value":"#089981"},"value":"#f23645"}}},
  {"data":{"name":"k"},"mark":{"type":"bar","size":1.7},
   "encoding":{"y":{"field":"o","type":"quantitative","scale":{"domain":[44863.64,93136.36],"nice":false,"zero":false,"padding":0},
     "axis":{"orient":"right","offset":-60,"values":[47500,50000,55000,57500,60000,62500,65000,70000,72500,75000,77500,80000,82500,85000,87500,90000,92500],"format":",.2f","domain":false,"ticks":false,"labelPadding":9,"labelColor":"#c3c3c3","labelFontSize":9.3,"labelFont":"Liberation Sans","grid":true,"gridColor":"#242424","title":null,"labelOverlap":false}},"y2":{"field":"c"},
   "color":{"condition":{"test":"datum.c >= datum.o","value":"#089981"},"value":"#f23645"}}},
  {"data":{"values":[{"t":"2026-01-24T13:16","t2":"2026-04-12T16:48","p":67851.91}]},"mark":{"type":"rule","color":"#089981","strokeDash":[1,2],"strokeWidth":1},
   "encoding":{"x2":{"field":"t2"},"y":{"field":"p","type":"quantitative","scale":{"domain":[44863.64,93136.36],"nice":false,"zero":false,"padding":0},
     "axis":{"orient":"right","offset":-60,"values":[47500,50000,55000,57500,60000,62500,65000,70000,72500,75000,77500,80000,82500,85000,87500,90000,92500],"format":",.2f","domain":false,"ticks":false,"labelPadding":9,"labelColor":"#c3c3c3","labelFontSize":9.3,"labelFont":"Liberation Sans","grid":true,"gridColor":"#242424","title":null,"labelOverlap":false}}}},
  {"data":{"values":[{"t":"2026-02-08T10:44","up":71409,"mid":66136,"lo":60864},{"t":"2026-04-04T06:29","up":77045,"mid":71818,"lo":66591}]},
   "layer":[
    {"mark":{"type":"area","color":"#2962ff","opacity":0.1},"encoding":{"y":{"field":"up","type":"quantitative","scale":{"domain":[44863.64,93136.36],"nice":false,"zero":false,"padding":0},
     "axis":{"orient":"right","offset":-60,"values":[47500,50000,55000,57500,60000,62500,65000,70000,72500,75000,77500,80000,82500,85000,87500,90000,92500],"format":",.2f","domain":false,"ticks":false,"labelPadding":9,"labelColor":"#c3c3c3","labelFontSize":9.3,"labelFont":"Liberation Sans","grid":true,"gridColor":"#242424","title":null,"labelOverlap":false}},"y2":{"field":"lo"}}},
    {"mark":{"type":"line","color":"#2962ff","strokeWidth":2},"encoding":{"y":{"field":"up","type":"quantitative","scale":{"domain":[44863.64,93136.36],"nice":false,"zero":false,"padding":0},
     "axis":{"orient":"right","offset":-60,"values":[47500,50000,55000,57500,60000,62500,65000,70000,72500,75000,77500,80000,82500,85000,87500,90000,92500],"format":",.2f","domain":false,"ticks":false,"labelPadding":9,"labelColor":"#c3c3c3","labelFontSize":9.3,"labelFont":"Liberation Sans","grid":true,"gridColor":"#242424","title":null,"labelOverlap":false}}}},
    {"mark":{"type":"line","color":"#2962ff","strokeWidth":2},"encoding":{"y":{"field":"lo","type":"quantitative","scale":{"domain":[44863.64,93136.36],"nice":false,"zero":false,"padding":0},
     "axis":{"orient":"right","offset":-60,"values":[47500,50000,55000,57500,60000,62500,65000,70000,72500,75000,77500,80000,82500,85000,87500,90000,92500],"format":",.2f","domain":false,"ticks":false,"labelPadding":9,"labelColor":"#c3c3c3","labelFontSize":9.3,"labelFont":"Liberation Sans","grid":true,"gridColor":"#242424","title":null,"labelOverlap":false}}}},
    {"mark":{"type":"line","color":"#2962ff","strokeWidth":1.2,"strokeDash":[4,4]},"encoding":{"y":{"field":"mid","type":"quantitative","scale":{"domain":[44863.64,93136.36],"nice":false,"zero":false,"padding":0},
     "axis":{"orient":"right","offset":-60,"values":[47500,50000,55000,57500,60000,62500,65000,70000,72500,75000,77500,80000,82500,85000,87500,90000,92500],"format":",.2f","domain":false,"ticks":false,"labelPadding":9,"labelColor":"#c3c3c3","labelFontSize":9.3,"labelFont":"Liberation Sans","grid":true,"gridColor":"#242424","title":null,"labelOverlap":false}}}}
   ]},
  {"data":{"values":[{"t":"2026-03-02T03:07","t2":"2026-04-12T16:48","p":56906.6},{"t":"2026-03-02T03:07","t2":"2026-04-12T16:48","p":52896.78}]},"mark":{"type":"rule","color":"#ffeb3b","strokeWidth":2},
   "encoding":{"x2":{"field":"t2"},"y":{"field":"p","type":"quantitative","scale":{"domain":[44863.64,93136.36],"nice":false,"zero":false,"padding":0},
     "axis":{"orient":"right","offset":-60,"values":[47500,50000,55000,57500,60000,62500,65000,70000,72500,75000,77500,80000,82500,85000,87500,90000,92500],"format":",.2f","domain":false,"ticks":false,"labelPadding":9,"labelColor":"#c3c3c3","labelFontSize":9.3,"labelFont":"Liberation Sans","grid":true,"gridColor":"#242424","title":null,"labelOverlap":false}}}},
  {"data":{"values":[{"t":"2026-03-30T02:10","p":65382}]},"mark":{"type":"point","shape":"circle","filled":true,"size":625,"fill":"#f59f00","fillOpacity":0.22,"stroke":"#f7a21b","strokeWidth":2,"strokeOpacity":1},
   "encoding":{"y":{"field":"p","type":"quantitative","scale":{"domain":[44863.64,93136.36],"nice":false,"zero":false,"padding":0},
     "axis":{"orient":"right","offset":-60,"values":[47500,50000,55000,57500,60000,62500,65000,70000,72500,75000,77500,80000,82500,85000,87500,90000,92500],"format":",.2f","domain":false,"ticks":false,"labelPadding":9,"labelColor":"#c3c3c3","labelFontSize":9.3,"labelFont":"Liberation Sans","grid":true,"gridColor":"#242424","title":null,"labelOverlap":false}}}},
  {"data":{"values":[{"t":"2026-03-16T07:40","p":80318,"s":"آکادمی چشم آپولو"}]},"mark":{"type":"text","font":"DejaVu Sans","fontSize":23,"color":"#2962ff","align":"center","baseline":"alphabetic"},
   "encoding":{"y":{"field":"p","type":"quantitative","scale":{"domain":[44863.64,93136.36],"nice":false,"zero":false,"padding":0},
     "axis":{"orient":"right","offset":-60,"values":[47500,50000,55000,57500,60000,62500,65000,70000,72500,75000,77500,80000,82500,85000,87500,90000,92500],"format":",.2f","domain":false,"ticks":false,"labelPadding":9,"labelColor":"#c3c3c3","labelFontSize":9.3,"labelFont":"Liberation Sans","grid":true,"gridColor":"#242424","title":null,"labelOverlap":false}},"text":{"field":"s"}}},
  {"data":{"values":[{"t":"2026-03-25T04:05","p":72045,"s":"ApolloEye"}]},"mark":{"type":"text","font":"Liberation Sans","fontSize":30,"color":"#2962ff","align":"center","baseline":"alphabetic"},
   "encoding":{"y":{"field":"p","type":"quantitative","scale":{"domain":[44863.64,93136.36],"nice":false,"zero":false,"padding":0},
     "axis":{"orient":"right","offset":-60,"values":[47500,50000,55000,57500,60000,62500,65000,70000,72500,75000,77500,80000,82500,85000,87500,90000,92500],"format":",.2f","domain":false,"ticks":false,"labelPadding":9,"labelColor":"#c3c3c3","labelFontSize":9.3,"labelFont":"Liberation Sans","grid":true,"gridColor":"#242424","title":null,"labelOverlap":false}},"text":{"field":"s"}}},
  {"data":{"values":[{"t":"2026-02-05T12:36","p":74618,"s":"Telegram\nRubika\nBale\nAparat"}]},"mark":{"type":"text","font":"Liberation Sans","fontSize":7,"fontWeight":"bold","color":"#ffffff","align":"left","baseline":"middle","lineBreak":"\n","lineHeight":7.6},
   "encoding":{"y":{"field":"p","type":"quantitative","scale":{"domain":[44863.64,93136.36],"nice":false,"zero":false,"padding":0},
     "axis":{"orient":"right","offset":-60,"values":[47500,50000,55000,57500,60000,62500,65000,70000,72500,75000,77500,80000,82500,85000,87500,90000,92500],"format":",.2f","domain":false,"ticks":false,"labelPadding":9,"labelColor":"#c3c3c3","labelFontSize":9.3,"labelFont":"Liberation Sans","grid":true,"gridColor":"#242424","title":null,"labelOverlap":false}},"text":{"field":"s"}}},
  {"data":{"values":[{"t":"2026-02-08T05:25","p":73473,"s":"@ApolloEye"}]},"mark":{"type":"text","font":"Liberation Sans","fontSize":8.3,"fontWeight":"bold","color":"#ffffff","align":"left","baseline":"middle"},
   "encoding":{"y":{"field":"p","type":"quantitative","scale":{"domain":[44863.64,93136.36],"nice":false,"zero":false,"padding":0},
     "axis":{"orient":"right","offset":-60,"values":[47500,50000,55000,57500,60000,62500,65000,70000,72500,75000,77500,80000,82500,85000,87500,90000,92500],"format":",.2f","domain":false,"ticks":false,"labelPadding":9,"labelColor":"#c3c3c3","labelFontSize":9.3,"labelFont":"Liberation Sans","grid":true,"gridColor":"#242424","title":null,"labelOverlap":false}},"text":{"field":"s"}}},
  {"data":{"values":[
    {"t":"2026-01-25T01:03","p":92109,"s":"Bitcoin / Tether, 4h, Binance","k":0},
    {"t":"2026-02-03T22:54","p":92109,"s":"O","k":0},
    {"t":"2026-02-04T14:25","p":92109,"s":"66,736.79","k":1},
    {"t":"2026-02-08T10:08","p":92109,"s":"H","k":0},
    {"t":"2026-02-09T00:28","p":92109,"s":"68,589.49","k":1},
    {"t":"2026-02-12T19:12","p":92109,"s":"L","k":0},
    {"t":"2026-02-13T06:36","p":92109,"s":"66,729.28","k":1},
    {"t":"2026-02-16T22:23","p":92109,"s":"C","k":0},
    {"t":"2026-02-17T12:43","p":92109,"s":"67,851.91","k":1},
    {"t":"2026-02-21T09:02","p":92109,"s":"+1,115.11 (+1.67%)","k":1},
    {"t":"2026-01-25T01:03","p":90891,"s":"Volume","k":0},
    {"t":"2026-01-27T23:46","p":90891,"s":"2.21 K","k":1}]},
   "mark":{"type":"text","font":"Liberation Sans","fontSize":9.5,"align":"left","baseline":"middle"},
   "encoding":{"y":{"field":"p","type":"quantitative","scale":{"domain":[44863.64,93136.36],"nice":false,"zero":false,"padding":0},
     "axis":{"orient":"right","offset":-60,"values":[47500,50000,55000,57500,60000,62500,65000,70000,72500,75000,77500,80000,82500,85000,87500,90000,92500],"format":",.2f","domain":false,"ticks":false,"labelPadding":9,"labelColor":"#c3c3c3","labelFontSize":9.3,"labelFont":"Liberation Sans","grid":true,"gridColor":"#242424","title":null,"labelOverlap":false}},"text":{"field":"s"},
    "color":{"condition":{"test":"datum.k == 1","value":"#22ab94"},"value":"#d1d4dc"}}},
  {"data":{"values":[{"t":"2026-04-12T12:58","t2":"2026-04-16T21:07","p":56906.6},{"t":"2026-04-12T12:58","t2":"2026-04-16T21:07","p":52896.78}]},"mark":{"type":"bar","size":14,"color":"#ffeb3b"},
   "encoding":{"x2":{"field":"t2"},"y":{"field":"p","type":"quantitative","scale":{"domain":[44863.64,93136.36],"nice":false,"zero":false,"padding":0},
     "axis":{"orient":"right","offset":-60,"values":[47500,50000,55000,57500,60000,62500,65000,70000,72500,75000,77500,80000,82500,85000,87500,90000,92500],"format":",.2f","domain":false,"ticks":false,"labelPadding":9,"labelColor":"#c3c3c3","labelFontSize":9.3,"labelFont":"Liberation Sans","grid":true,"gridColor":"#242424","title":null,"labelOverlap":false}}}},
  {"data":{"values":[{"t":"2026-04-14T17:04","p":56906.6,"s":"56,906.60"},{"t":"2026-04-14T17:04","p":52896.78,"s":"52,896.78"}]},"mark":{"type":"text","font":"Liberation Sans","fontSize":9.3,"color":"#000000","align":"center","baseline":"middle"},
   "encoding":{"y":{"field":"p","type":"quantitative","scale":{"domain":[44863.64,93136.36],"nice":false,"zero":false,"padding":0},
     "axis":{"orient":"right","offset":-60,"values":[47500,50000,55000,57500,60000,62500,65000,70000,72500,75000,77500,80000,82500,85000,87500,90000,92500],"format":",.2f","domain":false,"ticks":false,"labelPadding":9,"labelColor":"#c3c3c3","labelFontSize":9.3,"labelFont":"Liberation Sans","grid":true,"gridColor":"#242424","title":null,"labelOverlap":false}},"text":{"field":"s"}}},
  {"data":{"values":[{"t":"2026-04-12T16:48","t2":"2026-04-16T19:12","p":67851.91}]},"mark":{"type":"bar","size":21,"color":"#089981","yOffset":3.5},
   "encoding":{"x2":{"field":"t2"},"y":{"field":"p","type":"quantitative","scale":{"domain":[44863.64,93136.36],"nice":false,"zero":false,"padding":0},
     "axis":{"orient":"right","offset":-60,"values":[47500,50000,55000,57500,60000,62500,65000,70000,72500,75000,77500,80000,82500,85000,87500,90000,92500],"format":",.2f","domain":false,"ticks":false,"labelPadding":9,"labelColor":"#c3c3c3","labelFontSize":9.3,"labelFont":"Liberation Sans","grid":true,"gridColor":"#242424","title":null,"labelOverlap":false}}}},
  {"data":{"values":[{"t":"2026-04-14T18:00","p":67851.91,"s":"67,851.91","s2":"01:09:37"}]},
   "layer":[
    {"mark":{"type":"text","font":"Liberation Sans","fontSize":9.3,"color":"#ffffff","align":"center","baseline":"middle","yOffset":-1},
     "encoding":{"y":{"field":"p","type":"quantitative","scale":{"domain":[44863.64,93136.36],"nice":false,"zero":false,"padding":0},
     "axis":{"orient":"right","offset":-60,"values":[47500,50000,55000,57500,60000,62500,65000,70000,72500,75000,77500,80000,82500,85000,87500,90000,92500],"format":",.2f","domain":false,"ticks":false,"labelPadding":9,"labelColor":"#c3c3c3","labelFontSize":9.3,"labelFont":"Liberation Sans","grid":true,"gridColor":"#242424","title":null,"labelOverlap":false}},"text":{"field":"s"}}},
    {"mark":{"type":"text","font":"Liberation Sans","fontSize":9.3,"color":"#ffffff","align":"center","baseline":"middle","yOffset":9},
     "encoding":{"y":{"field":"p","type":"quantitative","scale":{"domain":[44863.64,93136.36],"nice":false,"zero":false,"padding":0},
     "axis":{"orient":"right","offset":-60,"values":[47500,50000,55000,57500,60000,62500,65000,70000,72500,75000,77500,80000,82500,85000,87500,90000,92500],"format":",.2f","domain":false,"ticks":false,"labelPadding":9,"labelColor":"#c3c3c3","labelFontSize":9.3,"labelFont":"Liberation Sans","grid":true,"gridColor":"#242424","title":null,"labelOverlap":false}},"text":{"field":"s2"}}}
   ]}
 ]}
],
"resolve":{"scale":{"y":"independent"}}
}
